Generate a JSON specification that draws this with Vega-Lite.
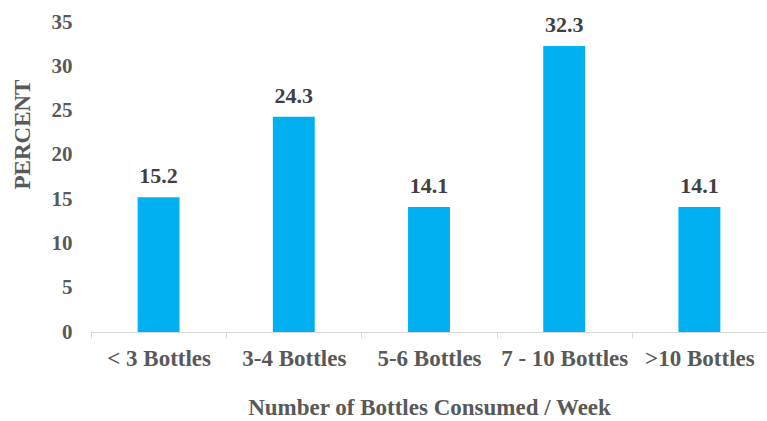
{
  "$schema": "https://vega.github.io/schema/vega-lite/v6.json",
  "autosize": "none",
  "width": 676,
  "height": 310,
  "padding": {"left": 91, "top": 22, "right": 0, "bottom": 89},
  "background": "white",
  "config": {"view": {"stroke": null}, "font": "Liberation Serif"},
  "data": {"values": [
    {"cat": "< 3 Bottles", "pct": 15.2},
    {"cat": "3-4 Bottles", "pct": 24.3},
    {"cat": "5-6 Bottles", "pct": 14.1},
    {"cat": "7 - 10 Bottles", "pct": 32.3},
    {"cat": ">10 Bottles", "pct": 14.1}
  ]},
  "encoding": {
    "x": {"field": "cat", "type": "nominal", "sort": null,
      "scale": {"paddingInner": 0, "paddingOuter": 0},
      "axis": {"title": "Number of Bottles Consumed / Week", "labelAngle": 0,
        "tickBand": "extent", "domainColor": "#D9D9D9", "tickColor": "#D9D9D9", "tickSize": 6,
        "labelFont": "Liberation Serif", "labelFontWeight": "bold", "labelFontSize": 23, "labelColor": "#595959",
        "labelPadding": 9, "labelBaseline": "top",
        "titleFont": "Liberation Serif", "titleFontWeight": "bold", "titleFontSize": 23, "titleColor": "#595959",
        "titleY": 82, "titleBaseline": "alphabetic"}},
    "y": {"field": "pct", "type": "quantitative",
      "scale": {"domain": [0, 35], "nice": false},
      "axis": {"title": "PERCENT", "values": [0,5,10,15,20,25,30,35], "grid": false, "domain": false, "ticks": false,
        "labelFont": "Liberation Serif", "labelFontWeight": "bold", "labelFontSize": 21, "labelColor": "#595959",
        "labelPadding": 19,
        "titleFont": "Liberation Serif", "titleFontWeight": "bold", "titleFontSize": 23, "titleColor": "#595959",
        "titleX": -69, "titleY": 112, "titleAngle": -90, "titleBaseline": "middle", "titleAlign": "center"}}
  },
  "layer": [
    {"mark": {"type": "bar", "color": "#00B0F0", "width": {"band": 0.31}}},
    {"mark": {"type": "text", "baseline": "alphabetic", "dy": -14, "font": "Liberation Serif", "fontWeight": "bold", "fontSize": 22, "color": "#404040"},
     "encoding": {"text": {"field": "pct", "type": "quantitative", "format": ".1f"}}}
  ]
}
